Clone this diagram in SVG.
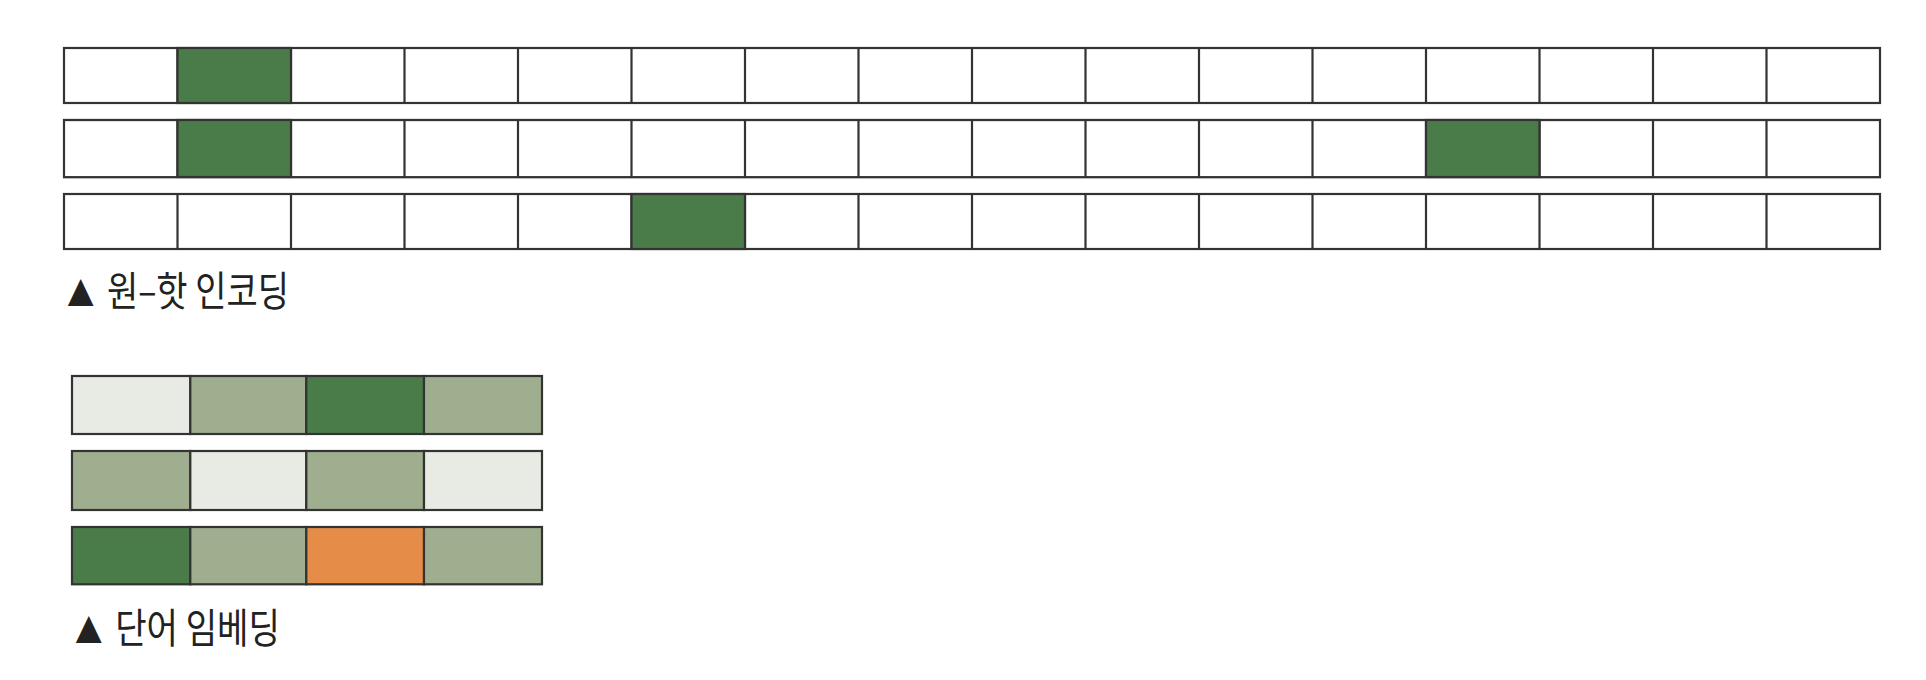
<svg xmlns="http://www.w3.org/2000/svg" width="1926" height="680" viewBox="0 0 1926 680">
<style>
rect{stroke:#333;stroke-width:2.2}
.w{fill:#fff}.d{fill:#4a7c4a}.s{fill:#9eae8e}.l{fill:#e8eae4}.o{fill:#e58c48}
text{font-family:"Noto Sans CJK KR","Noto Sans",sans-serif;font-size:41px;fill:#222}
.tri{font-size:33px}
</style>
<rect width="1926" height="680" fill="#fff" style="stroke:none"/>
<defs>
<g id="oh">
<rect class="w" x="64" y="0" width="1816" height="55"/>
<path d="M177.5 0v55M291 0v55M404.5 0v55M518 0v55M631.5 0v55M745 0v55M858.5 0v55M972 0v55M1085.5 0v55M1199 0v55M1312.5 0v55M1426 0v55M1539.5 0v55M1653 0v55M1766.5 0v55" stroke="#333" stroke-width="2.2"/>
</g>
</defs>
<g id="onehot-row1">
<use href="#oh" y="48"/>
<rect class="d" x="177.5" y="48" width="113.5" height="55"/>
</g>
<g id="onehot-row2">
<use href="#oh" transform="translate(0,120) scale(1,1.04)"/>
<rect class="d" x="177.5" y="120" width="113.5" height="57"/>
<rect class="d" x="1426" y="120" width="113.5" height="57"/>
</g>
<g id="onehot-row3">
<use href="#oh" y="194"/>
<rect class="d" x="631.5" y="194" width="113.5" height="55"/>
</g>
<g id="onehot-label"><text x="67" y="306" textLength="222" lengthAdjust="spacingAndGlyphs"><tspan class="tri">▲</tspan><tspan dx="6"> 원–핫 인코딩</tspan></text></g>
<g id="emb-row1">
<rect class="l" x="72" y="376" width="118.3" height="58"/>
<rect class="s" x="190.3" y="376" width="116" height="58"/>
<rect class="d" x="306.3" y="376" width="117.7" height="58"/>
<rect class="s" x="424" y="376" width="118" height="58"/>
</g>
<g id="emb-row2">
<rect class="s" x="72" y="451" width="118.3" height="59"/>
<rect class="l" x="190.3" y="451" width="116" height="59"/>
<rect class="s" x="306.3" y="451" width="117.7" height="59"/>
<rect class="l" x="424" y="451" width="118" height="59"/>
</g>
<g id="emb-row3">
<rect class="d" x="72" y="527" width="118.3" height="57.3"/>
<rect class="s" x="190.3" y="527" width="116" height="57.3"/>
<rect class="o" x="306.3" y="527" width="117.7" height="57.3"/>
<rect class="s" x="424" y="527" width="118" height="57.3"/>
</g>
<g id="emb-label"><text x="75" y="643" textLength="205" lengthAdjust="spacingAndGlyphs"><tspan class="tri">▲</tspan><tspan dx="6"> 단어 임베딩</tspan></text></g>
</svg>
